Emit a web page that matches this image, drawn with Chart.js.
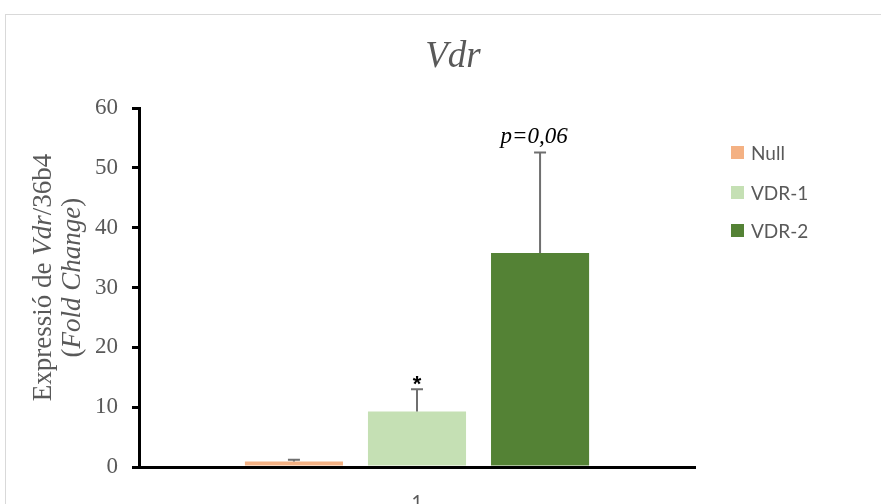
<!DOCTYPE html>
<html>
<head>
<meta charset="utf-8">
<script src="https://cdn.jsdelivr.net/npm/chart.js@4.4.0/dist/chart.umd.min.js"></script>
<style>
  html, body { margin: 0; padding: 0; background: #fff; overflow: hidden; }
  #wrap { position: relative; width: 881px; height: 504px; }
  #marco { position: absolute; left: 5px; top: 14px; width: 900px; height: 600px; border: 1px solid #d9d9d9; }
  #myChart { position: absolute; left: 0; top: 0; }
  #leyenda { position: absolute; left: 731px; top: 0; font-family: Lato, sans-serif; font-size: 19px; color: #595959; }
  .item { position: absolute; left: 0; white-space: nowrap; display: flex; align-items: center; height: 20px; }
  .caja { width: 13px; height: 13px; margin-right: 7px; }
</style>
</head>
<body>
<div id="wrap">
  <div id="marco"></div>
  <canvas id="myChart" width="881" height="504"></canvas>
  <div id="leyenda"></div>
</div>
<script>
// datos
const categorias = ['1'];
const series = ['Null', 'VDR-1', 'VDR-2'];
const medias = [0.9, 9.3, 35.8];
const errores = [0.3, 3.7, 16.8];
const marcas = ['', '*', 'p=0,06'];
const colores = ['#f4b183', '#c5e0b4', '#548235'];
const ticksY = [0, 10, 20, 30, 40, 50, 60];

const gris = '#595959';
const serif = '"Liberation Serif", "Times New Roman", serif';

// leyenda en html
const leyenda = document.getElementById('leyenda');
const posLeyenda = [152, 192, 230];
series.forEach((nombre, i) => {
  const div = document.createElement('div');
  div.className = 'item';
  div.style.top = (posLeyenda[i] - 10) + 'px';
  div.innerHTML = `<span class="caja" style="background:${colores[i]}"></span>${nombre}`;
  leyenda.appendChild(div);
});

// texto con trozos en cursiva, centrado en el origen
function textoMixto(ctx, partes, size) {
  const fuente = p => (p[1] ? 'italic ' : '') + size + 'px ' + serif;
  let ancho = 0;
  partes.forEach(p => { ctx.font = fuente(p); ancho += ctx.measureText(p[0]).width; });
  let pos = -ancho / 2;
  partes.forEach(p => {
    ctx.font = fuente(p);
    ctx.fillText(p[0], pos, 0);
    pos += ctx.measureText(p[0]).width;
  });
}

// barras de error + marcas de significacion
const barrasError = {
  id: 'barrasError',
  afterDatasetsDraw(chart) {
    const { ctx, scales: { y } } = chart;
    chart.data.datasets.forEach((ds, i) => {
      const bar = chart.getDatasetMeta(i).data[0];
      const arriba = y.getPixelForValue(medias[i] + errores[i]);
      ctx.save();
      ctx.strokeStyle = '#6f6f6f';
      ctx.lineWidth = 2;
      ctx.beginPath();
      ctx.moveTo(bar.x, bar.y);
      ctx.lineTo(bar.x, arriba);
      ctx.moveTo(bar.x - 6, arriba);
      ctx.lineTo(bar.x + 6, arriba);
      ctx.stroke();

      ctx.fillStyle = '#000';
      ctx.textAlign = 'left';
      ctx.textBaseline = 'alphabetic';
      if (marcas[i] === '*') {
        ctx.font = 'bold 22px "Liberation Sans"';
        ctx.textAlign = 'center';
        ctx.fillText('*', bar.x, arriba + 2);
      } else if (marcas[i]) {
        ctx.translate(bar.x - 6, arriba - 9);
        textoMixto(ctx, [[marcas[i], true]], 23);
      }
      ctx.restore();
    });
  }
};

// titulo del grafico y del eje y (con partes en cursiva)
const titulos = {
  id: 'titulos',
  afterDraw(chart) {
    const { ctx, chartArea } = chart;
    ctx.save();
    ctx.fillStyle = gris;
    ctx.textBaseline = 'alphabetic';
    ctx.textAlign = 'left';

    ctx.save();
    ctx.translate(453, 67);
    textoMixto(ctx, [['Vdr', true]], 37);
    ctx.restore();

    const centro = (chartArea.top + chartArea.bottom) / 2 - 10;
    const lineas = [
      { x: 51, partes: [['Expressió de ', false], ['Vdr', true], ['/36b4', false]] },
      { x: 80, partes: [['(', false], ['Fold Change', true], [')', false]] }
    ];
    lineas.forEach(linea => {
      ctx.save();
      ctx.translate(linea.x, centro);
      ctx.rotate(-Math.PI / 2);
      textoMixto(ctx, linea.partes, 27);
      ctx.restore();
    });
    ctx.restore();
  }
};

const ctx = document.getElementById('myChart');
new Chart(ctx, {
  type: 'bar',
  data: {
    labels: categorias,
    datasets: series.map((nombre, i) => ({
      label: nombre,
      data: [medias[i]],
      backgroundColor: colores[i],
      borderWidth: 0,
      categoryPercentage: 0.664,
      barPercentage: 0.797
    }))
  },
  options: {
    responsive: false,
    animation: false,
    layout: { padding: { left: 0, right: 186, top: 0, bottom: 0 } },
    plugins: {
      legend: { display: false },
      tooltip: { enabled: false },
      // el titulo reserva el espacio; se dibuja a mano en el plugin
      title: {
        display: true,
        text: 'Vdr',
        color: 'rgba(0,0,0,0)',
        font: { family: serif, size: 36, weight: 'normal' },
        padding: { top: 34, bottom: 31 }
      }
    },
    scales: {
      x: {
        grid: { display: false },
        border: { display: true, color: '#000', width: 3 },
        ticks: { color: gris, font: { family: 'Lato, sans-serif', size: 19 }, padding: 16 },
        afterFit: s => { s.height = 37; }
      },
      y: {
        min: 0,
        max: 60,
        afterBuildTicks: s => { s.ticks = ticksY.map(v => ({ value: v })); },
        grid: { display: true, drawOnChartArea: false, drawTicks: true, tickLength: 7, color: '#000', lineWidth: 3 },
        border: { display: true, color: '#000', width: 3 },
        ticks: { color: gris, font: { family: serif, size: 23 }, padding: 14 },
        afterFit: s => { s.width = 139; }
      }
    }
  },
  plugins: [barrasError, titulos]
});
</script>
</body>
</html>
